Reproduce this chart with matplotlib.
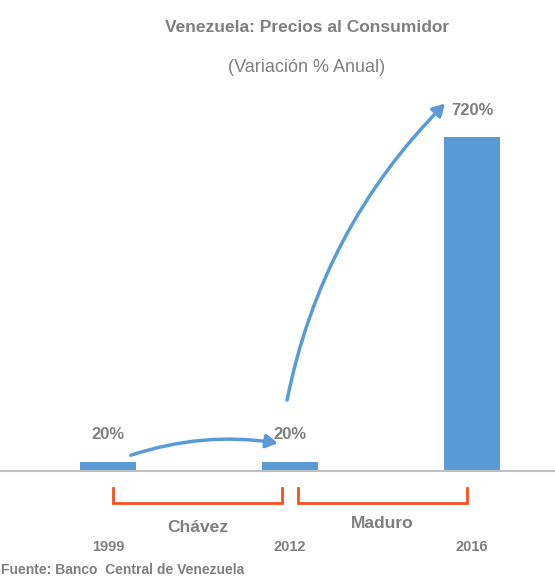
import matplotlib.pyplot as plt

# datos
anios = ["1999", "2012", "2016"]
inflacion = [20, 20, 720]
etiquetas = ["20%", "20%", "720%"]
periodos = ["Chávez", "Maduro"]

AZUL = "#5B9BD5"
GRIS = "#7F7F7F"
NARANJA = "#F4511E"
FUENTE = ["Liberation Sans", "DejaVu Sans"]

plt.rcParams["font.family"] = FUENTE

fig = plt.figure(figsize=(5.55, 5.8), dpi=100)
ax = fig.add_axes([0, 109 / 580, 1, 391 / 580])

x = list(range(len(anios)))
ax.bar(x, inflacion, width=0.31, color=AZUL, zorder=2)
ax.set_xlim(-0.593, 2.456)
ax.set_ylim(0, 720 * 391 / 334)

for s in ["top", "right", "left"]:
    ax.spines[s].set_visible(False)
ax.spines["bottom"].set_color("#BFBFBF")
ax.spines["bottom"].set_linewidth(1.5)
ax.set_yticks([])
ax.set_xticks([])

# etiquetas de valor
for xi, v, t in zip(x, inflacion, etiquetas):
    ax.annotate(t, (xi, v), xytext=(0, 27), textcoords="offset pixels",
                ha="center", va="center", fontsize=12, fontweight="bold",
                color=GRIS)

# años debajo
for xi, a in zip(x, anios):
    ax.annotate(a, (xi, 0), xytext=(0, -76), textcoords="offset pixels",
                ha="center", va="center", fontsize=10.5, fontweight="bold",
                color=GRIS, annotation_clip=False)

# corchetes de periodos
trans = ax.get_xaxis_transform()


def corchete(x0, x1, texto, y_txt):
    y_top = -17 / 391
    y_bot = -32 / 391
    ax.plot([x0, x0, x1, x1], [y_top, y_bot, y_bot, y_top], color=NARANJA,
            lw=2, transform=trans, clip_on=False, solid_joinstyle="miter")
    ax.text((x0 + x1) / 2, y_txt, texto, transform=trans, ha="center",
            va="center", fontsize=12.5, color=GRIS, fontweight="bold")


corchete(0.027, 0.956, periodos[0], -56 / 391)
corchete(1.044, 1.973, periodos[1], -52 / 391)

# flechas
flecha = dict(arrowstyle="-|>,head_length=0.7,head_width=0.4", color=AZUL, lw=2.5,
              shrinkA=0, shrinkB=0)
ax.annotate("", xy=(0.934, 60), xytext=(0.126, 34),
            arrowprops=dict(**flecha, connectionstyle="arc3,rad=-0.12"))
ax.annotate("", xy=(1.852, 792), xytext=(0.984, 153),
            arrowprops=dict(**flecha, connectionstyle="arc3,rad=-0.15"))

fig.text(0.553, 1 - 27 / 580, "Venezuela: Precios al Consumidor", ha="center",
         va="center", fontsize=12.5, fontweight="bold", color=GRIS)
fig.text(0.553, 1 - 67 / 580, "(Variación % Anual)", ha="center", va="center",
         fontsize=13, color=GRIS)
fig.text(0.002, 1 - 570 / 580, "Fuente: Banco  Central de Venezuela", ha="left",
         va="center", fontsize=10, fontweight="bold", color=GRIS)

fig.savefig("out.png", dpi=100)
